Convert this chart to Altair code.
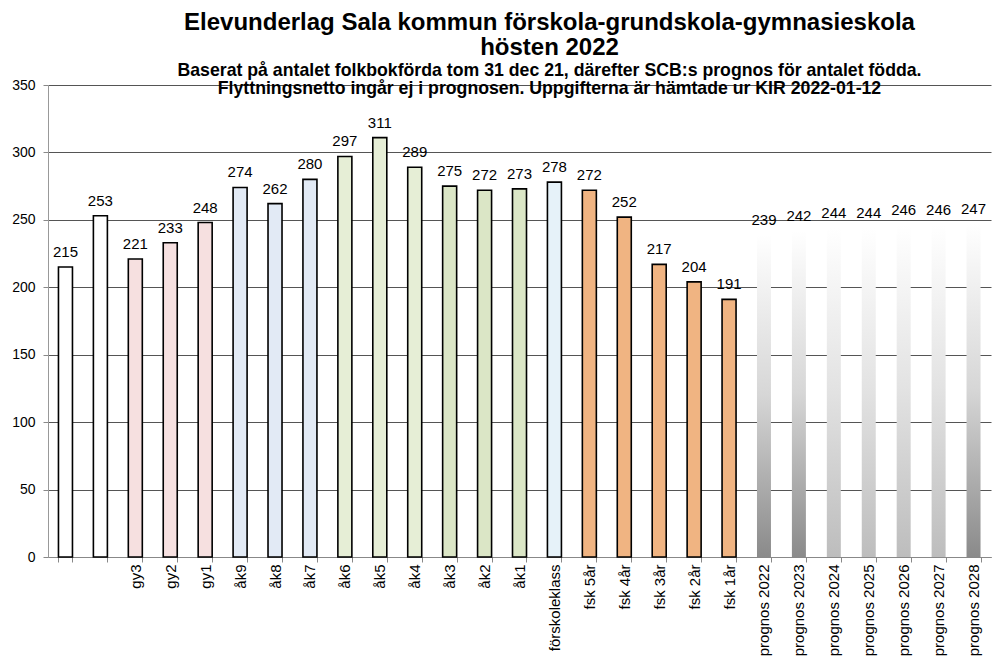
import altair as alt
import pandas as pd

# ---- data ----
keys = [" ", "  ", "gy3", "gy2", "gy1", "åk9", "åk8", "åk7", "åk6", "åk5", "åk4",
        "åk3", "åk2", "åk1", "förskoleklass", "fsk 5år", "fsk 4år", "fsk 3år",
        "fsk 2år", "fsk 1år", "prognos 2022", "prognos 2023", "prognos 2024",
        "prognos 2025", "prognos 2026", "prognos 2027", "prognos 2028"]
values = [215, 253, 221, 233, 248, 274, 262, 280, 297, 311, 289, 275, 272, 273,
          278, 272, 252, 217, 204, 191, 239, 242, 244, 244, 246, 246, 247]
groups = ["old", "old", "gy", "gy", "gy", "ak79", "ak79", "ak79",
          "ak46", "ak46", "ak46", "ak13", "ak13", "ak13", "fklass",
          "fsk", "fsk", "fsk", "fsk", "fsk",
          "progdark", "progdark", "proglight", "proglight",
          "proglight", "proglight", "progdark"]

group_domain = ["old", "gy", "ak79", "ak46", "ak13", "fklass", "fsk"]
group_colors = ["#ffffff", "#f6e0e0", "#e2eaf5", "#e6eed6", "#dbe6c6", "#e6f2f9", "#f0b482"]

df = pd.DataFrame({"key": keys, "value": values, "group": groups})

FONT = "Liberation Sans"

x_enc = alt.X(
    "key:N", sort=keys, title=None,
    scale=alt.Scale(paddingInner=0.6, paddingOuter=0.3),
    axis=alt.Axis(
        labelAngle=-90, labelAlign="right", labelBaseline="middle",
        labelFont=FONT, labelFontSize=15, labelColor="#000000", labelPadding=2,
        tickSize=5, tickColor="#888888", tickBand="extent",
        domainColor="#888888", grid=False,
    ),
)
y_enc = alt.Y(
    "value:Q", title=None,
    scale=alt.Scale(domain=[0, 350], nice=False),
    axis=alt.Axis(
        values=[0, 50, 100, 150, 200, 250, 300, 350],
        labelFont=FONT, labelFontSize=14, labelColor="#000000", labelPadding=8,
        tickSize=5, tickColor="#888888", domainColor="#999999",
        gridColor="#555555", gridWidth=1, minExtent=37,
    ),
)

base = alt.Chart(df)

solid = base.transform_filter(
    alt.FieldOneOfPredicate(field="group", oneOf=group_domain)
).mark_bar(size=14, stroke="#000000", strokeWidth=1.6).encode(
    x=x_enc, y=y_enc,
    fill=alt.Fill("group:N", scale=alt.Scale(domain=group_domain, range=group_colors), legend=None),
)

dark_grad = alt.LinearGradient(
    gradient="linear", x1=0, x2=0, y1=0, y2=1,
    stops=[alt.GradientStop(color="#ffffff", offset=0),
           alt.GradientStop(color="#d6d6d6", offset=0.5),
           alt.GradientStop(color="#8a8a8a", offset=1)],
)
light_grad = alt.LinearGradient(
    gradient="linear", x1=0, x2=0, y1=0, y2=1,
    stops=[alt.GradientStop(color="#ffffff", offset=0),
           alt.GradientStop(color="#e2e2e2", offset=0.5),
           alt.GradientStop(color="#bdbdbd", offset=1)],
)

prog_dark = base.transform_filter(
    alt.FieldEqualPredicate(field="group", equal="progdark")
).mark_bar(size=14, fill=dark_grad, strokeWidth=0).encode(x=x_enc, y=y_enc)

prog_light = base.transform_filter(
    alt.FieldEqualPredicate(field="group", equal="proglight")
).mark_bar(size=14, fill=light_grad, strokeWidth=0).encode(x=x_enc, y=y_enc)

labels = base.mark_text(
    baseline="bottom", dy=-7, font=FONT, fontSize=15, color="#000000"
).encode(x=x_enc, y=y_enc, text=alt.Text("value:Q"))

chart = alt.layer(solid, prog_dark, prog_light, labels).properties(
    width=943,
    height=472,
    padding=3,
    title=alt.TitleParams(
        text=["Elevunderlag Sala kommun förskola-grundskola-gymnasieskola", "hösten 2022"],
        subtitle=["Baserat på antalet folkbokförda tom 31 dec 21, därefter SCB:s prognos för antalet födda.",
                  "Flyttningsnetto ingår ej i prognosen. Uppgifterna är hämtade ur  KIR 2022-01-12"],
        font=FONT, fontSize=24, fontWeight="bold", color="#000000", lineHeight=25,
        subtitleFont=FONT, subtitleFontSize=17.7, subtitleFontWeight="bold",
        subtitleColor="#000000", subtitleLineHeight=18, subtitlePadding=2,
        anchor="middle", dx=30, offset=-20,
    ),
).configure_view(stroke=None)

chart.save("out.html", embed_options={"renderer": "svg", "actions": False})
